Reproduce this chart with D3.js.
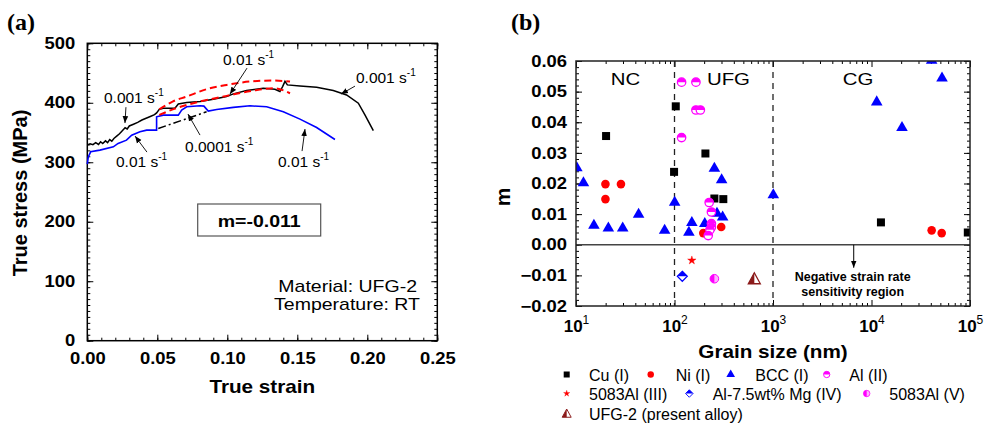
<!DOCTYPE html>
<html>
<head>
<meta charset="utf-8">
<script src="https://cdn.jsdelivr.net/npm/d3@7"></script>
<style>
body{margin:0;background:#fff;}
text{font-family:"Liberation Sans",Arial,sans-serif;}
</style>
</head>
<body>
<div id="chart"></div>
<script>
// ---- panel (a) data : [true strain, true stress MPa]
const blackCurve = [[0,329],[0.002,331],[0.004,329.5],[0.006,333],[0.008,330],[0.0095,334.5],[0.011,331.5],[0.013,336],
  [0.0145,333],[0.016,338],[0.0175,335.5],[0.019,340],[0.021,344],[0.023,348],[0.025,353],[0.027,358],[0.0285,356],
  [0.030,361],[0.033,364],[0.036,367],[0.039,371],[0.042,374],[0.045,377],[0.048,380],[0.0495,383],[0.0514,389],
  [0.0543,390.8],[0.0626,390.8],[0.065,398],[0.071,400.3],[0.0805,402],[0.09,406],
  [0.0995,410.5],[0.1043,415],[0.1138,420.6],[0.1257,424.5],[0.134,422.8],[0.1376,418.9],[0.1395,427.3],[0.1412,436],
  [0.1429,430.1],[0.1519,428.4],[0.1638,426.1],[0.1757,420.5],[0.1852,413.2],[0.1936,399.2],[0.1983,379.6],[0.2043,353.2]];
const blueCurve = [[0,296.8],[0.0007,309],[0.0024,317.6],[0.009,320.4],[0.0186,326],[0.022,331.6],[0.028,337.2],
  [0.0317,345.6],[0.0376,351.2],[0.0424,354],[0.0495,354],[0.0495,376.4],[0.0543,379.2],[0.065,379.2],[0.0674,387.6],
  [0.071,393.2],[0.0805,394.9],[0.0833,394.4],[0.0864,386],[0.0924,388.8],[0.1043,392.2],[0.1162,394.9],[0.1281,393.2],
  [0.14,384.8],[0.1519,372.5],[0.1638,358.5],[0.1769,338.3]];
const redUpper = [[0.0514,389],[0.0609,402],[0.071,410.5],[0.0852,422.8],[0.0995,430],[0.1162,435.7],[0.1329,437.4],[0.1448,435.7]];
const redLower = [[0.0514,379.5],[0.0633,390.8],[0.0805,402],[0.0995,411.6],[0.1186,420.6],[0.1329,424.5],[0.1448,416]];
const dashDot = [[0.0507,356.8],[0.0852,384.8]];
// rate labels: text anchor, arrow start, arrow end (data units)
const rateLabels = [
  {rate:"0.001", at:[0.0119,399.2], from:[0.0276,392.6], to:[0.0269,365.9]},
  {rate:"0.01",  at:[0.0205,291.9], from:[0.0426,317.1], to:[0.0341,344]},
  {rate:"0.0001",at:[0.0698,317.1], from:[0.0805,345.7], to:[0.0719,381]},
  {rate:"0.01",  at:[0.0969,463.4], from:[0.1141,458.3], to:[0.1019,414.6]},
  {rate:"0.001", at:[0.1919,433],   from:[0.1912,428],   to:[0.1812,414.6]},
  {rate:"0.01",  at:[0.1362,291.9], from:[0.1534,318.8], to:[0.1555,355.8]}
];
const xTicksA = [0,0.05,0.1,0.15,0.2,0.25];
const yTicksA = [0,100,200,300,400,500];

// ---- panel (b) data : [grain size nm, m]
const cu = [[20.2,0.0355],[103,0.0452],[99,0.0238],[206,0.0298],[254,0.0151],[313,0.0149],[12470,0.0073],[95000,0.0040]];
const ni = [[19.9,0.0198],[28.6,0.0198],[19.9,0.0149],[196,0.0038],[298,0.0058],[40800,0.0047],[51600,0.0038]];
const bcc = [[10.2,0.0251],[11.9,0.0202],[15.2,0.0063],[21.3,0.0054],[29.8,0.0054],[43.2,0.0099],[79.4,0.0047],
  [100.4,0.0138],[140,0.0040],[150,0.0072],[203,0.0069],[254,0.0249],[301,0.0212],[270,0.0102],[308,0.0090],
  [1007,0.0163],[11300,0.0466],[20400,0.0382],[40800,0.0602],[52000,0.0544]];
const alII = [[118,0.0531],[165,0.0531],[165,0.0440],[183,0.0440],[118,0.0350],[225,0.0138],[237,0.0107],
  [237,0.0069],[237,0.0057],[229,0.0049],[220,0.0030]];
const al5083III = [[150,-0.0051]];
const alMgIV = [[120,-0.0103]];
const al5083V = [[254,-0.0111]];
const ufg2 = [[646,-0.0111]];
const xTicksB = [10,100,1000,10000,100000];
const yTicksB = [-0.02,-0.01,0,0.01,0.02,0.03,0.04,0.05,0.06];
const regions = [["NC",31.8],["UFG",353],["CG",7300]];
const legendRows = [
  [["sq","Cu (I)"],["ci","Ni (I)"],["tri","BCC (I)"],["alII","Al (II)"]],
  [["star","5083Al (III)"],["dia","Al-7.5wt% Mg (IV)"],["halfci","5083Al (V)"]],
  [["halftri","UFG-2 (present alloy)"]]
];

const W = 985, H = 423;
const svg = d3.select("#chart").append("svg").attr("width", W).attr("height", H);

function stretch(sel, s){
  sel.each(function(){
    const t = d3.select(this);
    const x = +t.attr("x") || 0, y = +t.attr("y") || 0;
    t.attr("x", 0).attr("y", 0).attr("transform", `translate(${x},${y}) scale(${s},1)`);
  });
}

// ================= panel (a)
const xA = d3.scaleLinear([0,0.25],[87.3,437.3]);
const yA = d3.scaleLinear([0,500],[340.7,43.3]);
const gA = svg.append("g");

svg.append("defs").append("marker").attr("id","arr").attr("viewBox","0 0 10 10")
  .attr("refX",10).attr("refY",5).attr("markerWidth",7).attr("markerHeight",7)
  .attr("markerUnits","userSpaceOnUse").attr("orient","auto")
  .append("path").attr("d","M0,1 L10,5 L0,9 z").attr("fill","#000");

function minorAxis(axisFn, scale, vals, len){
  return axisFn(scale).tickValues(vals).tickSizeInner(-len).tickSizeOuter(0).tickFormat("");
}
const minorXA = d3.range(0,0.2501,0.01), minorYA = d3.range(0,501,10);
gA.append("g").attr("transform","translate(0,340.7)").call(minorAxis(d3.axisBottom,xA,minorXA,3));
gA.append("g").attr("transform","translate(0,43.3)").call(minorAxis(d3.axisTop,xA,minorXA,3));
gA.append("g").attr("transform","translate(87.3,0)").call(minorAxis(d3.axisLeft,yA,minorYA,3));
gA.append("g").attr("transform","translate(437.3,0)").call(minorAxis(d3.axisRight,yA,minorYA,3));
gA.append("g").attr("transform","translate(0,43.3)").call(minorAxis(d3.axisTop,xA,xTicksA,6));
gA.append("g").attr("transform","translate(437.3,0)").call(minorAxis(d3.axisRight,yA,yTicksA,6));
const axXA = gA.append("g").attr("transform","translate(0,340.7)")
  .call(d3.axisBottom(xA).tickValues(xTicksA).tickSizeInner(-6).tickSizeOuter(0).tickPadding(12).tickFormat(d3.format(".2f")));
const axYA = gA.append("g").attr("transform","translate(87.3,0)")
  .call(d3.axisLeft(yA).tickValues(yTicksA).tickSizeInner(-6).tickSizeOuter(0).tickPadding(12).tickFormat(d3.format("d")));
[axXA, axYA].forEach(a => {
  a.selectAll("text").attr("font-size",16).attr("font-weight","bold").attr("fill","#000")
   .style("font-family","'Liberation Sans',Arial,sans-serif");
});
stretch(axXA.selectAll("text"),1.15); stretch(axYA.selectAll("text"),1.15);
gA.selectAll("g.tick line").attr("stroke","#000").attr("stroke-width",1);
gA.selectAll(".domain").remove();
gA.append("rect").attr("x",87.3).attr("y",43.3).attr("width",350).attr("height",297.4)
  .attr("fill","none").attr("stroke","#000").attr("stroke-width",1.5);

const lineA = d3.line().x(d => xA(d[0])).y(d => yA(d[1]));
gA.append("path").attr("d",lineA(blueCurve)).attr("fill","none").attr("stroke","#0000ff").attr("stroke-width",1.6);
gA.append("path").attr("d",lineA(blackCurve)).attr("fill","none").attr("stroke","#000").attr("stroke-width",1.5);
gA.append("path").attr("d",lineA(dashDot)).attr("fill","none").attr("stroke","#000").attr("stroke-width",1.5).attr("stroke-dasharray","8,3,2,3");
[redUpper, redLower].forEach(c => gA.append("path").attr("d",d3.line().curve(d3.curveMonotoneX).x(d=>xA(d[0])).y(d=>yA(d[1]))(c))
  .attr("fill","none").attr("stroke","#ff0000").attr("stroke-width",2).attr("stroke-dasharray","7,4"));

rateLabels.forEach(r => {
  gA.append("line").attr("x1",xA(r.from[0])).attr("y1",yA(r.from[1])).attr("x2",xA(r.to[0])).attr("y2",yA(r.to[1]))
    .attr("stroke","#000").attr("stroke-width",0.9).attr("marker-end","url(#arr)");
  const t = gA.append("text").attr("x",xA(r.at[0])).attr("y",yA(r.at[1])).attr("font-size",15.5).text(r.rate + " s");
  t.append("tspan").attr("dy",-7).attr("font-size",10).text("-1");
});

gA.append("rect").attr("x",197.7).attr("y",204).attr("width",123).attr("height",32)
  .attr("fill","#fff").attr("stroke","#555").attr("stroke-width",1.2);
stretch(gA.append("text").attr("x",259.2).attr("y",226.5).attr("text-anchor","middle").attr("font-size",17)
  .attr("font-weight","bold").text("m=-0.011"),1.15);
stretch(gA.append("text").attr("x",417).attr("y",292).attr("text-anchor","end").attr("font-size",16).text("Material: UFG-2"),1.22);
stretch(gA.append("text").attr("x",420).attr("y",310).attr("text-anchor","end").attr("font-size",16).text("Temperature: RT"),1.22);

stretch(gA.append("text").attr("x",262.3).attr("y",393).attr("text-anchor","middle").attr("font-size",18)
  .attr("font-weight","bold").text("True strain"),1.15);
gA.append("text").attr("transform","translate(27,193) rotate(-90)").attr("text-anchor","middle")
  .attr("font-size",20).attr("font-weight","bold").text("True stress (MPa)");
gA.append("text").attr("x",7).attr("y",30).attr("font-size",24).attr("font-weight","bold")
  .style("font-family","'Liberation Serif','Times New Roman',serif").text("(a)");

// ================= panel (b)
const xB = d3.scaleLog([10,100000],[576,970]);
const yB = d3.scaleLinear([-0.02,0.06],[306,61]);
const gB = svg.append("g");

const minorXB = [];
[10,100,1000,10000].forEach(d => { for (let k = 2; k <= 9; k++) minorXB.push(k*d); });
const minorYB = d3.range(-0.02,0.0601,0.002);
gB.append("g").attr("transform","translate(0,306)").call(minorAxis(d3.axisBottom,xB,minorXB,3));
gB.append("g").attr("transform","translate(0,61)").call(minorAxis(d3.axisTop,xB,minorXB,3));
gB.append("g").attr("transform","translate(576,0)").call(minorAxis(d3.axisLeft,yB,minorYB,3));
gB.append("g").attr("transform","translate(970,0)").call(minorAxis(d3.axisRight,yB,minorYB,3));
gB.append("g").attr("transform","translate(0,61)").call(minorAxis(d3.axisTop,xB,xTicksB,6));
gB.append("g").attr("transform","translate(970,0)").call(minorAxis(d3.axisRight,yB,yTicksB,6));
const axXB = gB.append("g").attr("transform","translate(0,306)")
  .call(d3.axisBottom(xB).tickValues(xTicksB).tickSizeInner(-6).tickSizeOuter(0).tickFormat(""));
axXB.selectAll("g.tick").append("text").attr("y",331.7-306).attr("text-anchor","middle").attr("fill","#000")
  .attr("font-size",17).attr("font-weight","bold")
  .each(function(d){
    const t = d3.select(this);
    t.text("10");
    t.append("tspan").attr("dy",-8).attr("font-size",12).attr("font-weight","normal").text(Math.round(Math.log10(d)));
  });
const axYB = gB.append("g").attr("transform","translate(576,0)")
  .call(d3.axisLeft(yB).tickValues(yTicksB).tickSizeInner(-6).tickSizeOuter(0).tickPadding(9).tickFormat(d3.format(".2f")));
axYB.selectAll("text").attr("font-size",16).attr("font-weight","bold").attr("fill","#000")
  .style("font-family","'Liberation Sans',Arial,sans-serif");
stretch(axYB.selectAll("text"),1.15);
gB.selectAll(".domain").remove();
gB.selectAll("g.tick line").attr("stroke","#000").attr("stroke-width",1);

gB.append("line").attr("x1",576).attr("x2",970).attr("y1",yB(0)).attr("y2",yB(0)).attr("stroke","#444").attr("stroke-width",1.5);
[100,1000].forEach(v => gB.append("line").attr("x1",xB(v)).attr("x2",xB(v)).attr("y1",61).attr("y2",306)
  .attr("stroke","#222").attr("stroke-width",1.3).attr("stroke-dasharray","6,5"));
gB.append("line").attr("x1",xB(6600)).attr("x2",xB(6600)).attr("y1",yB(0)).attr("y2",yB(-0.0075))
  .attr("stroke","#000").attr("stroke-width",1).attr("marker-end","url(#arr)");
gB.append("text").attr("x",xB(6440)).attr("y",yB(-0.0117)).attr("text-anchor","middle").attr("font-size",12.5)
  .attr("font-weight","bold").text("Negative strain rate");
gB.append("text").attr("x",xB(6440)).attr("y",yB(-0.0166)).attr("text-anchor","middle").attr("font-size",12.5)
  .attr("font-weight","bold").text("sensitivity region");
regions.forEach(r => stretch(gB.append("text").attr("x",xB(r[1])).attr("y",85).attr("text-anchor","middle")
  .attr("font-size",17).text(r[0]),1.2));

// symbols
function drawSym(g, type, x, y, k = 1){
  const s = g.append("g").attr("transform",`translate(${x},${y}) scale(${k})`);
  if (type === "sq") s.append("rect").attr("x",-4).attr("y",-4).attr("width",8).attr("height",8).attr("fill","#000");
  else if (type === "ci") s.append("circle").attr("r",4.3).attr("fill","#ff0000");
  else if (type === "tri") s.append("path").attr("d",d3.symbol(d3.symbolTriangle,58)()).attr("fill","#0000ff");
  else if (type === "star") s.append("path").attr("d",d3.symbol(d3.symbolStar,22)()).attr("fill","#ff0000").attr("stroke","#ff0000").attr("stroke-width",0.4);
  else if (type === "alII") {
    s.append("circle").attr("r",4.2).attr("fill","#fff").attr("stroke","#ff00ff").attr("stroke-width",1.3);
    s.append("path").attr("d","M-4.2,0 A4.2,4.2 0 0 1 4.2,0 Z").attr("fill","#ff00ff");
  } else if (type === "dia") {
    s.append("path").attr("d","M0,-5 L5,0 L0,5 L-5,0 Z").attr("fill","#fff").attr("stroke","#0000ff").attr("stroke-width",1.2);
    s.append("path").attr("d","M0,-5 L5,0 L-5,0 Z").attr("fill","#0000ff");
  } else if (type === "halfci") {
    s.append("circle").attr("r",4.3).attr("fill","#ffb0ff").attr("stroke","#ff00ff").attr("stroke-width",1);
    s.append("path").attr("d","M0,-4.3 A4.3,4.3 0 0 0 0,4.3 Z").attr("fill","#ff00ff");
  } else if (type === "halftri") {
    s.append("path").attr("d","M0,-6 L6,5 L-6,5 Z").attr("fill","#fff").attr("stroke","#8b1a1a").attr("stroke-width",1.3);
    s.append("path").attr("d","M0,-6 L0,5 L-6,5 Z").attr("fill","#8b1a1a");
  }
}

svg.append("clipPath").attr("id","clipB").append("rect").attr("x",576).attr("y",61).attr("width",394).attr("height",245);
const pts = gB.append("g").attr("clip-path","url(#clipB)");
[[cu,"sq"],[ni,"ci"],[bcc,"tri"],[alII,"alII"],[al5083III,"star"],[alMgIV,"dia"],[al5083V,"halfci"],[ufg2,"halftri"]]
  .forEach(([arr,type]) => arr.forEach(d => drawSym(pts, type, xB(d[0]), yB(d[1]))));

gB.append("rect").attr("x",576).attr("y",61).attr("width",394).attr("height",245)
  .attr("fill","none").attr("stroke","#222").attr("stroke-width",1.5);

stretch(gB.append("text").attr("x",773).attr("y",358.3).attr("text-anchor","middle").attr("font-size",18)
  .attr("font-weight","bold").text("Grain size (nm)"),1.15);
gB.append("text").attr("transform","translate(510,197) rotate(-90)").attr("text-anchor","middle")
  .attr("font-size",21).attr("font-weight","bold").text("m");
gB.append("text").attr("x",511).attr("y",30).attr("font-size",24).attr("font-weight","bold")
  .style("font-family","'Liberation Serif','Times New Roman',serif").text("(b)");

// legend
const legSymX = [[566.7,650.7,730.7,826.7],[566.7,689.3,866.7],[566.7]];
const legTxtX = [[589,675.7,755.3,849.3],[589,712.7,889.3],[589]];
const legY = [374.5,393.5,413.5];
const legG = svg.append("g");
legendRows.forEach((row,i) => row.forEach((it,j) => {
  drawSym(legG, it[0], legSymX[i][j], legY[i], 0.75);
  legG.append("text").attr("x",legTxtX[i][j]).attr("y",legY[i]+6).attr("font-size",16).text(it[1]);
}));
</script>
</body>
</html>
